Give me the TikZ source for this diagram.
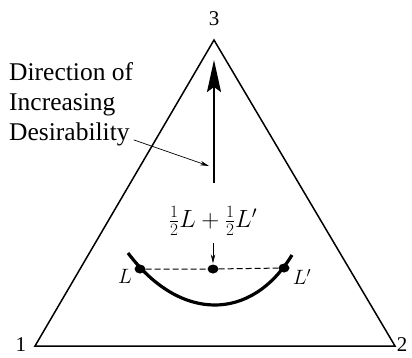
\documentclass[tikz,border=0pt]{standalone}
\usepackage{fontspec}
\setmainfont{Liberation Serif}
\usetikzlibrary{arrows.meta,shapes.geometric}
\begin{document}
\begin{tikzpicture}[x=1pt,y=-1pt,
  vert/.style={font=\fontsize{21}{24}\selectfont, inner sep=0pt},
  lbl/.style={font=\fontsize{25.5}{30}\selectfont, anchor=base west, inner sep=0pt},
  mlbl/.style={font=\fontsize{22}{24}\selectfont, inner sep=0pt},
  dot/.style={ellipse, fill=black, inner sep=0pt, minimum width=11pt, minimum height=9pt},
  side/.style={line width=1.5pt, line join=miter},
  thin arrow/.style={line width=0.7pt, -{Stealth[length=9pt,width=4.5pt]}}
]
\useasboundingbox (0,0) rectangle (412,357);
% triangle
\coordinate (v3) at (214,40);
\coordinate (v1) at (35,346);
\coordinate (v2) at (395,346);
\draw[side] (v1) -- (v2) -- (v3) -- cycle;
\node[vert] (n3) at (214,19) {3};
\node[vert] (n1) at (21,345) {1};
\node[vert] (n2) at (402,345) {2};
% main arrow
\coordinate (abase) at (214,183);
\coordinate (atip) at (214,60);
\draw[line width=2pt, -{Stealth[length=32pt,width=14pt,inset=5pt]}] (abase) -- (atip);
% text
\node[lbl] (t1) at (9,80) {Direction of};
\node[lbl] (t2) at (9,110) {Increasing};
\node[lbl] (t3) at (9,140) {Desirability};
\coordinate (lead) at (209,166);
\draw[thin arrow] ([xshift=4pt,yshift=-6pt]t3.east) -- (lead);
% curve
\draw[line width=3.2pt] (128,253) .. controls (180,322) and (251,322) .. (292,255);
% dots
\node[dot] (L) at (140,269) {};
\node[dot] (M) at (213,269) {};
\node[dot] (Lp) at (284,268) {};
\draw[line width=1pt, dash pattern=on 6pt off 3pt] (L) -- (M) -- (Lp);
\node[mlbl] (Lt) at (125,276) {$L$};
\node[mlbl] (Lpt) at (302,277) {$L'$};
\node[mlbl, font=\fontsize{24}{26}\selectfont] (mid) at (213,221) {$\frac{1}{2}L+\frac{1}{2}L'$};
\draw[thin arrow] (213,243) -- ([yshift=1pt]M.north);
\end{tikzpicture}
\end{document}
